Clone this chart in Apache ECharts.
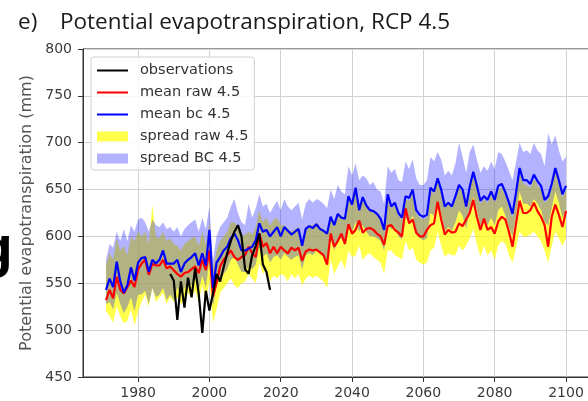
<!DOCTYPE html>
<html>
<head>
<meta charset="utf-8">
<script src="https://cdn.jsdelivr.net/npm/echarts@6/dist/echarts.min.js"></script>
<style>
  html, body { margin: 0; padding: 0; background: #fff; }
  #chart { width: 588px; height: 401px; }
</style>
</head>
<body>
<div id="chart"></div>
<script>
// Annual potential evapotranspiration (mm), RCP 4.5 scenario
const firstYear = 1971;
const lastYear = 2100;

const meanRaw = [
  532, 543, 534, 557, 543, 539, 546, 553, 546, 565,
  571, 575, 559, 571, 569, 569, 575, 566, 568, 564,
  560, 557, 561, 562, 565, 568, 561, 575, 564, 585,
  536, 550, 568, 575, 580, 585, 578, 575, 578, 580,
  589, 582, 578, 603, 589, 593, 582, 589, 582, 589,
  585, 582, 588, 585, 588, 574, 584, 586, 585, 586,
  583, 580, 570, 603, 589, 595, 603, 592, 613, 603,
  607, 617, 604, 608, 609, 607, 603, 600, 591, 611,
  612, 607, 604, 600, 630, 614, 618, 604, 600, 600,
  607, 612, 614, 637, 618, 602, 607, 604, 605, 614,
  611, 618, 625, 639, 621, 607, 619, 607, 610, 603,
  616, 621, 618, 605, 589, 614, 638, 625, 625, 628,
  636, 627, 621, 612, 589, 621, 634, 623, 610, 627
];

const meanBc = [
  543, 555, 546, 573, 552, 540, 548, 567, 553, 572,
  577, 578, 562, 575, 571, 575, 585, 571, 571, 571,
  575, 562, 571, 575, 578, 582, 569, 582, 569, 607,
  545, 572, 578, 585, 589, 598, 603, 596, 585, 585,
  587, 589, 596, 614, 605, 607, 600, 605, 610, 600,
  610, 606, 602, 605, 608, 590, 608, 611, 609, 613,
  608, 606, 603, 621, 612, 624, 620, 619, 643, 634,
  652, 628, 642, 633, 628, 627, 624, 619, 607, 645,
  632, 636, 625, 620, 643, 641, 650, 628, 623, 621,
  623, 652, 648, 662, 650, 632, 636, 632, 643, 655,
  650, 632, 653, 669, 654, 638, 643, 639, 648, 639,
  654, 656, 647, 636, 624, 647, 673, 660, 660, 656,
  666, 659, 654, 639, 643, 656, 673, 660, 645, 654
];

const rawLow = [
  520, 515, 508, 525, 515, 507, 510, 522, 505, 520,
  530, 538, 525, 545, 530, 535, 540, 528, 535, 530,
  535, 528, 532, 540, 535, 542, 530, 548, 532, 552,
  508, 522, 540, 545, 550, 555, 548, 545, 550, 552,
  560, 555, 550, 572, 560, 565, 552, 558, 555, 560,
  558, 552, 560, 555, 560, 548, 555, 558, 556, 558,
  555, 552, 545, 575, 560, 568, 575, 565, 585, 578,
  580, 590, 575, 580, 582, 578, 575, 572, 560, 585,
  585, 580, 578, 575, 595, 585, 588, 575, 572, 570,
  572, 585, 588, 605, 590, 578, 582, 580, 580, 590,
  585, 590, 598, 608, 592, 578, 590, 580, 585, 575,
  590, 595, 592, 580, 572, 588, 605, 600, 600, 602,
  605, 600, 595, 585, 572, 590, 605, 598, 590, 598
];

const rawHigh = [
  570, 582, 575, 598, 585, 590, 580, 600, 595, 605,
  600, 605, 592, 634, 600, 598, 605, 595, 598, 592,
  590, 585, 592, 595, 598, 600, 590, 605, 592, 615,
  565, 585, 595, 600, 605, 615, 615, 610, 600, 602,
  605, 602, 610, 628, 615, 620, 612, 618, 620, 612,
  612, 608, 605, 608, 610, 595, 610, 612, 612, 615,
  610, 608, 604, 622, 614, 625, 622, 620, 642, 635,
  650, 630, 640, 632, 628, 626, 622, 618, 605, 640,
  630, 633, 622, 618, 640, 638, 648, 625, 620, 618,
  620, 650, 645, 660, 648, 630, 634, 630, 640, 652,
  648, 630, 650, 665, 650, 635, 640, 636, 645, 636,
  650, 652, 644, 632, 620, 645, 670, 656, 655, 652,
  662, 655, 650, 636, 640, 652, 670, 656, 642, 650
];

const bcLow = [
  528, 530, 522, 540, 528, 518, 525, 535, 520, 538,
  538, 542, 528, 545, 535, 538, 545, 532, 538, 532,
  545, 538, 545, 550, 548, 555, 542, 558, 545, 575,
  525, 548, 555, 560, 565, 575, 578, 570, 562, 562,
  568, 565, 570, 588, 578, 582, 572, 578, 580, 575,
  582, 578, 575, 578, 580, 565, 580, 582, 580, 585,
  582, 580, 575, 598, 585, 595, 598, 590, 612, 605,
  615, 605, 612, 605, 600, 600, 598, 595, 585, 612,
  608, 610, 600, 597, 620, 615, 622, 603, 598, 596,
  598, 625, 622, 638, 625, 605, 610, 606, 615, 628,
  622, 608, 628, 642, 628, 612, 618, 612, 620, 612,
  628, 632, 622, 610, 600, 622, 648, 635, 635, 632,
  640, 635, 628, 615, 612, 630, 648, 636, 620, 628
];

const bcHigh = [
  575, 592, 588, 605, 595, 608, 595, 612, 605, 618,
  620, 615, 605, 618, 612, 610, 615, 608, 610, 605,
  610, 600, 608, 612, 615, 618, 605, 620, 608, 632,
  575, 600, 610, 615, 620, 632, 640, 625, 615, 612,
  635, 620, 630, 645, 632, 635, 625, 632, 638, 628,
  640, 632, 628, 632, 636, 618, 635, 640, 636, 640,
  638, 635, 630, 650, 640, 655, 648, 645, 675, 665,
  678, 660, 665, 662, 655, 658, 650, 648, 635, 675,
  668, 672, 660, 658, 680, 672, 682, 662, 655, 655,
  660, 685, 680, 690, 682, 665, 670, 665, 678, 700,
  685, 668, 690, 698, 682, 668, 675, 670, 680, 672,
  690, 688, 680, 670, 660, 680, 700, 690, 692, 688,
  700, 692, 688, 675, 710, 698, 708, 692, 680, 685
];

const obsFirstYear = 1989;
const observations = [
  560, 553, 511, 552, 524, 556, 535, 566, 539, 497,
  542, 521, 539, 560, 552, 567, 582, 595, 605, 612,
  600, 565, 560, 580, 590, 603, 570, 562, 543
];

const xTicks = [1980, 2000, 2020, 2040, 2060, 2080, 2100];
const yTicks = [450, 500, 550, 600, 650, 700, 750, 800];

const years = [];
for (let y = firstYear; y <= lastYear; y++) years.push(y);

const pairs = (vals, start) => vals.map((v, i) => [start + i, v]);
const triples = (lo, hi) => years.map((yr, i) => [yr, lo[i], hi[i]]);

const YELLOW = 'rgba(255,255,0,0.7)';
const LAVENDER = 'rgba(0,0,255,0.3)';
const lineIcon = 'path://M0,0L31,0L31,2L0,2Z';
const tickFont = { fontFamily: 'DejaVu Sans', fontSize: 14, color: '#3a3a3a' };

// Filled band between a lower and an upper envelope, drawn as one polygon
function bandItem(lo, hi, fill) {
  return function (params, api) {
    if (params.dataIndex !== 0) return null;
    const upper = [];
    const lower = [];
    for (let i = 0; i < years.length; i++) {
      upper.push(api.coord([years[i], hi[i]]));
      lower.push(api.coord([years[i], lo[i]]));
    }
    return {
      type: 'polygon',
      shape: { points: upper.concat(lower.reverse()) },
      style: { fill: fill, stroke: null }
    };
  };
}

const chart = echarts.init(document.getElementById('chart'), null, { renderer: 'canvas' });

chart.setOption({
  animation: false,
  backgroundColor: '#ffffff',
  title: {
    left: 18,
    top: 9,
    padding: 0,
    text: '{a|e)}{b|Potential evapotranspiration, RCP 4.5}',
    textStyle: {
      rich: {
        a: { width: 42, fontFamily: 'Open Sans', fontWeight: 'normal', fontSize: 22.5, color: '#1a1a1a', lineHeight: 28 },
        b: { fontFamily: 'Open Sans', fontWeight: 'normal', fontSize: 22.5, color: '#1a1a1a', lineHeight: 28 }
      }
    }
  },
  grid: {
    left: 83, right: -1, top: 49, bottom: 24,
    outerBoundsMode: 'none',
    show: true, borderColor: '#333', borderWidth: 1, backgroundColor: 'transparent'
  },
  legend: {
    orient: 'vertical',
    left: 91,
    top: 57,
    padding: [5, 6, 3, 6],
    itemGap: 5,
    itemWidth: 31,
    itemHeight: 10,
    backgroundColor: 'rgba(255,255,255,0.85)',
    borderColor: '#d0d0d0',
    borderWidth: 1,
    borderRadius: 3,
    textStyle: { fontFamily: 'DejaVu Sans', fontSize: 14.5, color: '#333', lineHeight: 17, padding: [0, 0, 0, 7] },
    data: [
      { name: 'observations', icon: lineIcon },
      { name: 'mean raw 4.5', icon: lineIcon },
      { name: 'mean bc 4.5', icon: lineIcon },
      { name: 'spread raw 4.5', icon: 'rect' },
      { name: 'spread BC 4.5', icon: 'rect' }
    ]
  },
  xAxis: {
    type: 'value',
    min: 1964.55,
    max: 2106.45,
    splitNumber: 7,
    axisLine: { show: true, lineStyle: { color: '#333', width: 1 } },
    axisTick: { show: true, length: 5, lineStyle: { color: '#333' }, customValues: xTicks },
    axisLabel: { ...tickFont, margin: 9, customValues: xTicks, formatter: v => String(v) },
    splitLine: { show: true, lineStyle: { color: '#d2d2d2', width: 1 }, customValues: xTicks }
  },
  yAxis: {
    type: 'value',
    min: 450,
    max: 800,
    interval: 50,
    name: 'Potential evapotranspiration (mm)',
    nameLocation: 'middle',
    nameGap: 40,
    nameTextStyle: { fontFamily: 'DejaVu Sans', fontSize: 16, color: '#555' },
    axisLine: { show: true, lineStyle: { color: '#333', width: 1 } },
    axisTick: { show: true, length: 5, lineStyle: { color: '#333' }, customValues: yTicks },
    axisLabel: { ...tickFont, margin: 11, customValues: yTicks },
    splitLine: { show: true, lineStyle: { color: '#d2d2d2', width: 1 } }
  },
  graphic: [
    {
      type: 'text', x: -22, y: 222, silent: true,
      style: { text: 'g', fontFamily: 'Liberation Sans', fontWeight: 'bold', fontSize: 57, fill: '#000', verticalAlign: 'top' }
    }
  ],
  series: [
    {
      name: 'spread raw 4.5', type: 'custom', data: triples(rawLow, rawHigh),
      encode: { x: 0, y: [1, 2] }, silent: true,
      itemStyle: { color: YELLOW }, renderItem: bandItem(rawLow, rawHigh, YELLOW), z: 1
    },
    {
      name: 'spread BC 4.5', type: 'custom', data: triples(bcLow, bcHigh),
      encode: { x: 0, y: [1, 2] }, silent: true,
      itemStyle: { color: LAVENDER }, renderItem: bandItem(bcLow, bcHigh, LAVENDER), z: 2
    },
    {
      name: 'mean raw 4.5', type: 'line', data: pairs(meanRaw, firstYear),
      symbol: 'none', itemStyle: { color: '#ff0000' }, lineStyle: { color: '#ff0000', width: 2.2 }, z: 3
    },
    {
      name: 'mean bc 4.5', type: 'line', data: pairs(meanBc, firstYear),
      symbol: 'none', itemStyle: { color: '#0000ff' }, lineStyle: { color: '#0000ff', width: 2.2 }, z: 4
    },
    {
      name: 'observations', type: 'line', data: pairs(observations, obsFirstYear),
      symbol: 'none', itemStyle: { color: '#000000' }, lineStyle: { color: '#000000', width: 2.2 }, z: 5
    }
  ]
});
</script>
</body>
</html>
